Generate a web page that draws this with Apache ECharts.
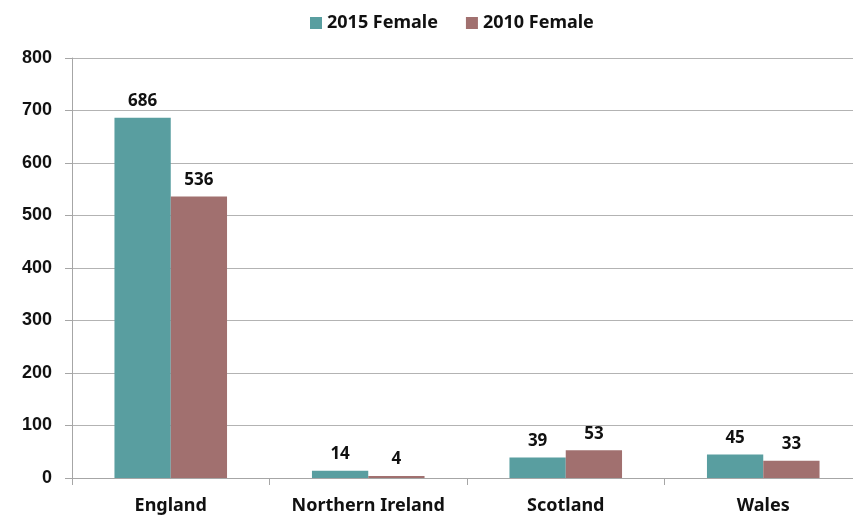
<!DOCTYPE html>
<html>
<head>
<meta charset="utf-8">
<script src="https://cdn.jsdelivr.net/npm/echarts@6/dist/echarts.min.js"></script>
<style>
  html, body { margin: 0; padding: 0; background: #ffffff; }
  #chart { width: 853px; height: 518px; }
</style>
</head>
<body>
<div id="chart"></div>
<script>
// Female counts by nation, 2015 vs 2010
const categories = ['England', 'Northern Ireland', 'Scotland', 'Wales'];
const female2015 = [686, 14, 39, 45];
const female2010 = [536, 4, 53, 33];
const seriesNames = ['2015 Female', '2010 Female'];

const chart = echarts.init(document.getElementById('chart'), null, { renderer: 'canvas' });

const labelStyle = {
  show: true,
  position: 'top',
  distance: 8,
  color: '#111',
  fontFamily: '"Noto Sans", sans-serif',
  fontWeight: 'bold',
  fontSize: 17
};

chart.setOption({
  animation: false,
  backgroundColor: '#ffffff',
  legend: {
    top: 9,
    left: 305,
    itemWidth: 12,
    itemHeight: 12,
    itemGap: 28,
    icon: 'rect',
    textStyle: {
      fontFamily: '"Noto Sans", sans-serif',
      fontWeight: 'bold',
      fontSize: 18,
      color: '#111'
    },
    data: seriesNames
  },
  grid: {
    left: 72,
    width: 790,
    top: 58,
    height: 420,
    containLabel: false,
    // the plot area runs slightly past the right edge of the canvas
    outerBoundsMode: 'none'
  },
  xAxis: {
    type: 'category',
    data: categories,
    axisLine: { lineStyle: { color: '#a6a6a6', width: 1 } },
    axisTick: { show: true, length: 7, interval: 0, lineStyle: { color: '#a6a6a6' } },
    axisLabel: {
      interval: 0,
      margin: 19,
      color: '#111',
      fontFamily: '"Noto Sans", sans-serif',
      fontWeight: 'bold',
      fontSize: 18
    }
  },
  yAxis: {
    type: 'value',
    min: 0,
    max: 800,
    interval: 100,
    axisLine: { show: true, lineStyle: { color: '#a6a6a6', width: 1 } },
    axisTick: { show: true, length: 7, lineStyle: { color: '#a6a6a6' } },
    splitLine: { lineStyle: { color: '#b3b3b3', width: 1 } },
    axisLabel: {
      margin: 20,
      color: '#111',
      fontFamily: '"Liberation Sans", Arial, sans-serif',
      fontWeight: 'bold',
      fontSize: 18
    }
  },
  series: [
    {
      name: seriesNames[0],
      type: 'bar',
      data: female2015,
      barGap: '0%',
      barCategoryGap: '43%',
      itemStyle: { color: '#599ea0' },
      label: labelStyle
    },
    {
      name: seriesNames[1],
      type: 'bar',
      data: female2010,
      barGap: '0%',
      barCategoryGap: '43%',
      itemStyle: { color: '#a1706f' },
      label: labelStyle
    }
  ]
});
</script>
</body>
</html>
